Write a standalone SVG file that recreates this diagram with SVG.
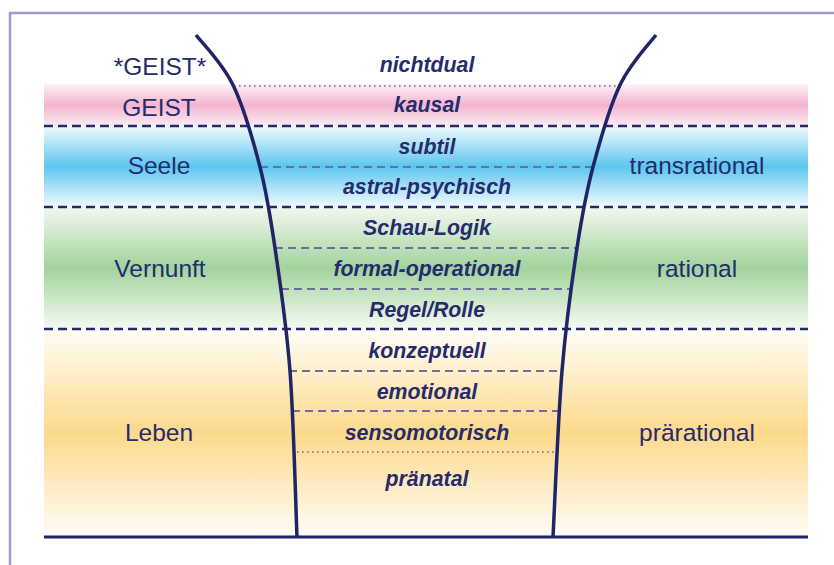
<svg xmlns="http://www.w3.org/2000/svg" width="834" height="565" viewBox="0 0 834 565">
  <defs>
    <linearGradient id="gPink" x1="0" y1="0" x2="0" y2="1">
      <stop offset="0" stop-color="#fdf2f7"/>
      <stop offset="0.5" stop-color="#f3b4cf"/>
      <stop offset="1" stop-color="#fcecf3"/>
    </linearGradient>
    <linearGradient id="gBlue" x1="0" y1="0" x2="0" y2="1">
      <stop offset="0" stop-color="#f2fafe"/>
      <stop offset="0.5" stop-color="#5cc6ef"/>
      <stop offset="1" stop-color="#f2fafe"/>
    </linearGradient>
    <linearGradient id="gGreen" x1="0" y1="0" x2="0" y2="1">
      <stop offset="0" stop-color="#f2f8f0"/>
      <stop offset="0.5" stop-color="#a2d39c"/>
      <stop offset="1" stop-color="#f5faf3"/>
    </linearGradient>
    <linearGradient id="gOrange" x1="0" y1="0" x2="0" y2="1">
      <stop offset="0" stop-color="#fffdf8"/>
      <stop offset="0.5" stop-color="#fdd98b"/>
      <stop offset="1" stop-color="#fffcf6"/>
    </linearGradient>
    <style>
      .frame { stroke: #a09cc4; stroke-width: 2.5; fill: none; }
      .major { stroke: #232a6c; stroke-width: 2.5; stroke-dasharray: 9 5; fill: none; }
      .minor { stroke: #6f6c9e; stroke-width: 2; stroke-dasharray: 8 5; fill: none; }
      .dots { stroke: #6f6c9e; stroke-width: 1.6; stroke-dasharray: 1.6 3.4; fill: none; }
      .curve { stroke: #1f2566; stroke-width: 3.5; fill: none; }
      .base { stroke: #1f2566; stroke-width: 3; fill: none; }
      .side { font-family: "Liberation Sans", Arial, sans-serif; font-size: 24.5px; fill: #252b6c; text-anchor: middle; }
      .stage { font-family: "Liberation Sans", Arial, sans-serif; font-size: 21.3px; font-weight: bold; font-style: italic; fill: #252b6c; text-anchor: middle; }
    </style>
  </defs>

  <rect width="834" height="565" fill="#ffffff"/>

  <!-- outer frame -->
  <g id="frame">
    <path class="frame" d="M10,565 V13 H834"/>
  </g>

  <!-- colour bands -->
  <g id="bands">
    <rect id="band-geist" x="44" y="84" width="764" height="42" fill="url(#gPink)"/>
    <rect id="band-seele" x="44" y="126" width="764" height="81" fill="url(#gBlue)"/>
    <rect id="band-vernunft" x="44" y="207" width="764" height="122" fill="url(#gGreen)"/>
    <rect id="band-leben" x="44" y="329" width="764" height="207" fill="url(#gOrange)"/>
  </g>

  <!-- level dividers -->
  <g id="connectors">
    <line class="dots" x1="234" y1="86" x2="619" y2="86"/>
    <line class="major" x1="44" y1="126" x2="808" y2="126"/>
    <line class="minor" x1="260" y1="167" x2="592" y2="167"/>
    <line class="major" x1="44" y1="207" x2="808" y2="207"/>
    <line class="minor" x1="275" y1="248" x2="577" y2="248"/>
    <line class="minor" x1="281" y1="289" x2="570" y2="289"/>
    <line class="major" x1="44" y1="329" x2="808" y2="329"/>
    <line class="minor" x1="289" y1="371" x2="562" y2="371"/>
    <line class="minor" x1="292" y1="411" x2="559" y2="411"/>
    <line class="dots" x1="297" y1="452" x2="556" y2="452"/>
    <line class="base" x1="44" y1="537" x2="808" y2="537"/>
    <!-- funnel walls -->
    <path class="curve" d="M196,35 C203,44 222.3,63 233,85 C243.7,107 253,139.8 260,167 C267,194.2 270,214 275,248 C280,282 286.3,322.8 290,371 C293.7,419.2 295.8,509.3 297,537"/>
    <path class="curve" d="M656,35 C649,44 630.5,63 620,85 C609.5,107 600.2,139.8 593,167 C585.8,194.2 582.2,214 577,248 C571.8,282 566,322.8 562,371 C558,419.2 554.5,509.3 553,537"/>
  </g>

  <!-- left column labels -->
  <g id="label-geist-star"><text class="side" x="160" y="75">*GEIST*</text></g>
  <g id="label-geist"><text class="side" x="159" y="116">GEIST</text></g>
  <g id="label-seele"><text class="side" x="159" y="174">Seele</text></g>
  <g id="label-vernunft"><text class="side" x="160" y="277">Vernunft</text></g>
  <g id="label-leben"><text class="side" x="159" y="441">Leben</text></g>

  <!-- right column labels -->
  <g id="label-transrational"><text class="side" x="697" y="174">transrational</text></g>
  <g id="label-rational"><text class="side" x="697" y="277">rational</text></g>
  <g id="label-prarational"><text class="side" x="697" y="441">prärational</text></g>

  <!-- stages inside the funnel -->
  <g id="stage-nichtdual"><text class="stage" x="427" y="72">nichtdual</text></g>
  <g id="stage-kausal"><text class="stage" x="427" y="112">kausal</text></g>
  <g id="stage-subtil"><text class="stage" x="427" y="154">subtil</text></g>
  <g id="stage-astral"><text class="stage" x="427" y="194">astral-psychisch</text></g>
  <g id="stage-schau"><text class="stage" x="427" y="235">Schau-Logik</text></g>
  <g id="stage-formal"><text class="stage" x="427" y="276">formal-operational</text></g>
  <g id="stage-regel"><text class="stage" x="427" y="317">Regel/Rolle</text></g>
  <g id="stage-konzeptuell"><text class="stage" x="427" y="358">konzeptuell</text></g>
  <g id="stage-emotional"><text class="stage" x="427" y="399">emotional</text></g>
  <g id="stage-senso"><text class="stage" x="427" y="440">sensomotorisch</text></g>
  <g id="stage-pranatal"><text class="stage" x="427" y="486">pränatal</text></g>
</svg>
